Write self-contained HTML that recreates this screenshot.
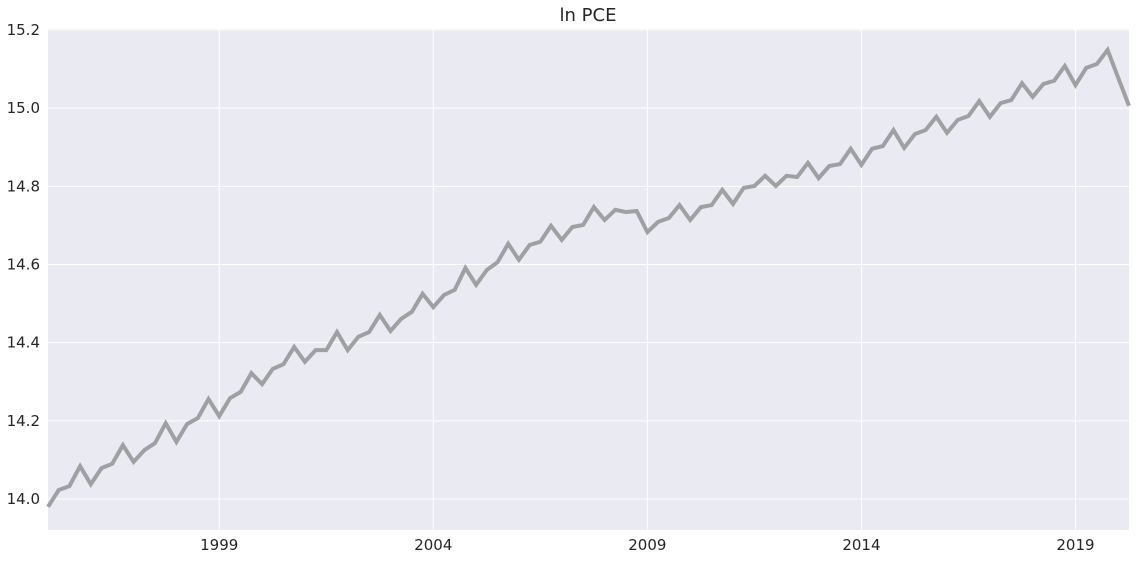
<!DOCTYPE html>
<html><head><meta charset="utf-8"><style>
body{margin:0;background:#fff;}
svg text{font-family:"DejaVu Sans","Liberation Sans",sans-serif;fill:#262626;}
</style></head><body>
<svg id="chart" width="1136" height="560">
<rect x="48" y="29" width="1081" height="501" fill="#eaeaf2"/>
<g id="grid"></g>
<g id="ticks"></g>
<path id="line" fill="none" stroke="#a0a0a3" stroke-width="4" stroke-linejoin="miter"/>
<text x="588" y="21" font-size="18" text-anchor="middle">ln PCE</text>
</svg>
<script>
const startYear = 1995.0;
const stepYears = 0.25;
const values = [13.980,14.023,14.033,14.084,14.038,14.079,14.090,14.138,14.095,14.125,14.143,14.194,14.146,14.192,14.207,14.256,14.212,14.258,14.274,14.322,14.294,14.333,14.345,14.389,14.351,14.381,14.381,14.427,14.381,14.415,14.427,14.471,14.430,14.461,14.479,14.525,14.491,14.522,14.535,14.591,14.548,14.586,14.606,14.653,14.612,14.650,14.658,14.699,14.663,14.696,14.701,14.747,14.714,14.740,14.734,14.737,14.683,14.709,14.719,14.752,14.714,14.747,14.752,14.791,14.755,14.796,14.801,14.827,14.801,14.827,14.824,14.860,14.821,14.852,14.857,14.896,14.855,14.896,14.903,14.944,14.898,14.934,14.944,14.978,14.937,14.970,14.980,15.018,14.978,15.013,15.021,15.064,15.029,15.062,15.070,15.108,15.059,15.103,15.113,15.149,15.077,15.006];
const yTicks = [14.0,14.2,14.4,14.6,14.8,15.0,15.2];
const xTicks = [1999,2004,2009,2014,2019];

const X0=48,X1=1129,Y0=29,Y1=530;
const xmin=startYear, xmax=startYear+(values.length-1)*stepYears;
const ymin=13.9207, ymax=15.2026;
const xs=t=>X0+(t-xmin)/(xmax-xmin)*(X1-X0);
const ys=v=>Y1-(v-ymin)/(ymax-ymin)*(Y1-Y0);
const NS="http://www.w3.org/2000/svg";
const grid=document.getElementById('grid'), ticks=document.getElementById('ticks');
yTicks.forEach(v=>{
  const y=ys(v);
  const l=document.createElementNS(NS,'line');
  l.setAttribute('x1',X0);l.setAttribute('x2',X1);l.setAttribute('y1',y);l.setAttribute('y2',y);
  l.setAttribute('stroke','#fff');l.setAttribute('stroke-width','1');
  
  
  grid.appendChild(l);
  const t=document.createElementNS(NS,'text');
  t.setAttribute('x',40);t.setAttribute('y',y+5);t.setAttribute('font-size','15');t.setAttribute('text-anchor','end');
  t.textContent=v.toFixed(1);
  
  
  ticks.appendChild(t);
});
xTicks.forEach(v=>{
  const x=xs(v);
  const l=document.createElementNS(NS,'line');
  l.setAttribute('x1',x);l.setAttribute('x2',x);l.setAttribute('y1',Y0);l.setAttribute('y2',Y1);
  l.setAttribute('stroke','#fff');l.setAttribute('stroke-width','1');
  
  
  grid.appendChild(l);
  const t=document.createElementNS(NS,'text');
  t.setAttribute('x',x);t.setAttribute('y',550);t.setAttribute('font-size','15');t.setAttribute('text-anchor','middle');
  t.textContent=v;
  
  
  ticks.appendChild(t);
});
document.getElementById('line').setAttribute('d',values.map((v,i)=>(i?'L':'M')+xs(startYear+i*stepYears).toFixed(1)+','+ys(v).toFixed(1)).join(' '));
</script>
</body></html>
